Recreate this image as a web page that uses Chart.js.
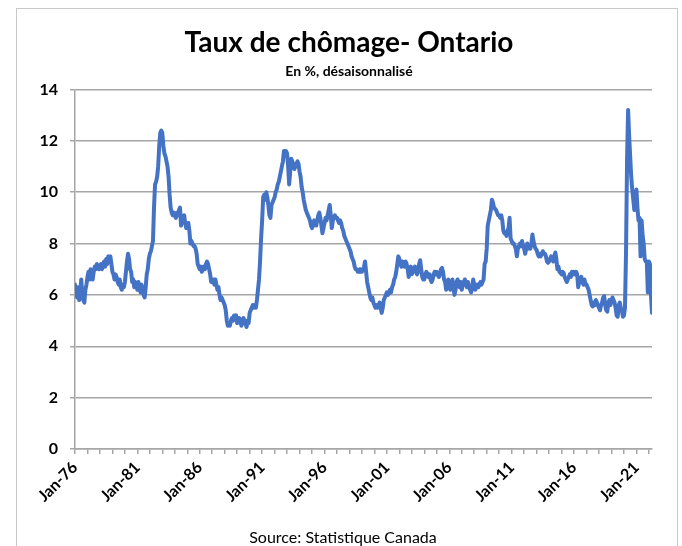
<!DOCTYPE html>
<html>
<head>
<meta charset="utf-8">
<script src="https://cdn.jsdelivr.net/npm/chart.js@4/dist/chart.umd.min.js"></script>
<style>
  body { margin: 0; background: #fff; }
  #wrap { position: relative; width: 682px; height: 546px; overflow: hidden; }
  #frame { position: absolute; left: 16px; top: 8px; width: 662px; height: 600px; border: 1px solid #c9c9c9; box-sizing: border-box; }
  canvas { position: absolute; left: 0; top: 0; }
  #source { position: absolute; left: 0; width: 686px; top: 527px; text-align: center; font: 16px Lato, sans-serif; color: #000; }
</style>
</head>
<body>
<div id="wrap">
  <div id="frame"></div>
  <canvas id="chomageChart" width="682" height="546"></canvas>
  <div id="source">Source: Statistique Canada</div>
</div>
<script>
// Taux de chômage mensuel, Ontario, janv. 1976 - avr. 2022
const tickLabels = ['Jan-76', 'Jan-81', 'Jan-86', 'Jan-91', 'Jan-96', 'Jan-01', 'Jan-06', 'Jan-11', 'Jan-16', 'Jan-21'];

const taux1970s = [
  6.4, 6.1, 5.9, 6.3, 5.8, 6.0, 6.6, 6.0, 5.8, 5.7, 6.2, 6.4,   // 1976
  6.7, 6.9, 6.6, 7.0, 6.8, 6.6, 6.9, 7.1, 7.0, 7.2, 7.1, 7.0,   // 1977
  7.1, 7.2, 7.0, 7.2, 7.3, 7.1, 7.4, 7.2, 7.5, 7.3, 7.5, 7.2,   // 1978
  6.9, 6.8, 6.6, 6.8, 6.7, 6.5, 6.4, 6.6, 6.3, 6.2, 6.4, 6.3    // 1979
];
const taux1980s = [
  6.5, 6.9, 7.3, 7.6, 7.4, 7.0, 6.9, 6.5, 6.6, 6.3, 6.5, 6.4,
  6.2, 6.5, 6.3, 6.1, 6.4, 6.2, 6.0, 5.9, 6.3, 6.8, 7.0, 7.4,
  7.6, 7.7, 7.9, 8.1, 9.4, 10.3, 10.4, 10.6, 11.0, 11.8, 12.3, 12.4,
  12.3, 11.8, 11.5, 11.4, 11.2, 11.0, 10.6, 9.9, 9.4, 9.2, 9.1, 9.2,
  9.1, 9.0, 9.2, 9.1, 9.3, 9.4, 8.7, 8.9, 9.0, 9.1, 8.8, 8.6,
  8.7, 8.8, 8.5, 8.0, 8.1, 8.0, 7.9, 7.9, 7.8, 7.6, 7.2, 7.1,
  7.0, 7.1, 6.9, 7.0, 7.1, 7.0, 7.2, 7.3, 7.2, 7.0, 6.8, 6.5,
  6.5, 6.6, 6.4, 6.6, 6.4, 6.2, 6.3, 6.0, 5.8, 5.9, 5.8, 5.7,
  5.6, 5.4, 5.0, 4.8, 4.9, 4.8, 5.0, 5.1, 5.0, 5.2, 5.1, 5.2,
  4.9, 5.0, 5.1, 5.0, 4.8, 4.9, 5.1, 5.0, 4.9, 4.75, 5.0, 4.9
];
const taux1990s = [
  5.3, 5.4, 5.5, 5.6, 5.5, 5.6, 5.5, 5.8, 6.2, 6.6, 7.3, 8.2,
  8.9, 9.8, 9.9, 9.7, 10.0, 9.8, 9.5, 9.1, 9.0, 9.5, 9.6, 9.7,
  9.8, 10.0, 10.1, 10.3, 10.4, 10.6, 10.8, 11.0, 11.2, 11.6, 11.5, 11.6,
  11.5, 11.0, 10.3, 10.8, 11.3, 11.2, 11.0, 10.9, 11.1, 11.0, 11.2, 11.1,
  10.8, 10.6, 10.2, 10.0, 9.7, 9.5, 9.3, 9.2, 9.1, 9.0, 8.9, 8.7,
  8.6, 8.7, 8.9, 8.8, 8.7, 8.9, 9.1, 9.2, 9.0, 8.7, 8.4, 8.6,
  8.8, 9.0, 8.9, 9.1, 9.3, 9.5, 9.1, 8.6, 8.9, 9.0, 9.1, 9.0,
  9.0, 8.9, 8.8, 8.9, 8.8, 8.6, 8.5, 8.3, 8.2, 8.1, 8.0, 7.9,
  7.8, 7.7, 7.5, 7.4, 7.3, 7.1, 7.0, 7.0, 6.9, 6.9, 7.0, 6.9,
  6.9, 7.0, 7.1, 7.3, 6.9, 6.5, 6.3, 6.1, 5.9, 5.8, 5.9, 5.7
];
const taux2000s = [
  5.6, 5.5, 5.6, 5.5, 5.6, 5.7, 5.5, 5.3, 5.5, 5.8, 5.9, 6.0,
  6.1, 6.0, 6.1, 6.2, 6.1, 6.3, 6.4, 6.6, 6.7, 6.9, 7.2, 7.5,
  7.4, 7.2, 7.1, 7.3, 7.2, 7.1, 7.3, 7.2, 7.0, 6.7, 6.9, 7.1,
  6.8, 6.9, 7.0, 7.1, 6.9, 6.8, 6.9, 7.2, 7.35, 7.0, 6.7, 6.6,
  6.6, 6.8, 6.9, 6.8, 6.7, 6.8, 6.6, 6.5, 6.6, 6.8, 6.9, 6.8,
  6.9, 6.8, 6.7, 6.8, 7.0, 7.05, 6.9, 6.6, 6.5, 6.2, 6.3, 6.6,
  6.3, 6.2, 6.4, 6.6, 6.3, 6.0, 6.2, 6.5, 6.6, 6.4, 6.3, 6.5,
  6.2, 6.4, 6.5, 6.6, 6.4, 6.3, 6.5, 6.3, 6.2, 6.1, 6.3, 6.6,
  6.4, 6.2, 6.3, 6.4, 6.3, 6.4, 6.5, 6.4, 6.5, 6.6, 7.2, 7.3,
  7.8, 8.7, 8.9, 9.1, 9.3, 9.7, 9.6, 9.4, 9.35, 9.3, 9.2, 9.1
];
const taux2010s = [
  9.1, 9.0, 9.1, 8.9, 8.5, 8.4, 8.4, 8.3, 8.5, 8.6, 9.0, 8.2,
  8.1, 8.0, 8.0, 7.9, 7.8, 7.5, 7.8, 7.9, 8.0, 7.9, 8.1, 7.9,
  7.8, 7.6, 7.8, 8.0, 7.8, 7.9, 7.8, 8.0, 8.35, 8.1, 7.9, 7.8,
  7.75, 7.6, 7.5, 7.6, 7.5, 7.6, 7.7, 7.6, 7.6, 7.5, 7.3, 7.25,
  7.3, 7.4, 7.5, 7.4, 7.3, 7.5, 7.65, 7.4, 7.0, 7.1, 6.9, 6.85,
  6.8, 6.9, 6.85, 6.7, 6.6, 6.5, 6.6, 6.7, 6.8, 6.7, 6.9, 6.8,
  6.9, 6.8, 6.9, 6.8, 6.3, 6.5, 6.6, 6.7, 6.5, 6.4, 6.6, 6.4,
  6.4, 6.3, 6.2, 6.0, 5.8, 5.6, 5.55, 5.7, 5.6, 5.8, 5.7, 5.6,
  5.5, 5.4, 5.6, 5.7, 5.9, 5.95, 5.6, 5.4, 5.35, 5.7, 5.8, 5.6,
  5.8, 5.9, 5.8, 5.7, 5.5, 5.2, 5.15, 5.6, 5.7, 5.5, 5.4, 5.15
];
const taux2020s = [
  5.2, 5.5, 7.6, 11.2, 13.2, 12.2, 11.4, 10.6, 10.1, 9.7, 9.3, 9.6,
  10.1, 9.4, 8.9, 9.0, 7.5, 8.9, 8.3, 8.0, 7.4, 7.3, 7.3, 6.1,
  7.3, 7.2, 6.0, 5.3
];

const taux = [].concat(taux1970s, taux1980s, taux1990s, taux2000s, taux2010s, taux2020s);
const points = taux.map((v, i) => ({ x: i, y: v }));

const gris = '#a6a6a6';
const police = 'Lato, sans-serif';

const ctx = document.getElementById('chomageChart').getContext('2d');
const chomageChart = new Chart(ctx, {
    type: 'line',
    data: {
        datasets: [{
            label: 'Ontario',
            data: points,
            borderColor: '#4472c4',
            borderWidth: 4,
            pointRadius: 0,
            tension: 0,
            borderJoinStyle: 'round',
            borderCapStyle: 'round'
        }]
    },
    options: {
        responsive: false,
        animation: false,
        devicePixelRatio: 1,
        // marge gauche 16 + axe vide à droite : titre centré vers x=349
        layout: { padding: { left: 16, right: 0, top: 0, bottom: 0 } },
        plugins: {
            legend: { display: false },
            tooltip: { enabled: false },
            title: {
                display: true,
                text: 'Taux de chômage- Ontario',
                color: '#000',
                font: { family: police, size: 28, weight: 'bold' },
                padding: { top: 26, bottom: 0 }
            },
            subtitle: {
                display: true,
                text: 'En %, désaisonnalisé',
                color: '#000',
                font: { family: police, size: 14, weight: 'bold' },
                padding: { top: 3, bottom: 10 }
            }
        },
        scales: {
            x: {
                type: 'linear',
                min: 0,
                max: taux.length - 1,
                afterFit: (scale) => { scale.height = 97; },
                border: { color: gris, width: 1.5 },
                grid: { drawOnChartArea: false, drawTicks: true, tickLength: 5, color: gris, lineWidth: 1.5 },
                ticks: {
                    stepSize: 12,
                    autoSkip: false,
                    includeBounds: false,
                    maxRotation: 45,
                    minRotation: 45,
                    padding: 4,
                    color: '#000',
                    font: { family: police, size: 16, weight: 'bold' },
                    callback: (value) => (value % 60 === 0 ? tickLabels[value / 60] : '')
                }
            },
            y: {
                min: 0,
                max: 14,
                afterFit: (scale) => { scale.width = 59; },
                border: { color: gris, width: 1.5 },
                grid: { color: gris, lineWidth: 1.5, tickLength: 5 },
                ticks: {
                    stepSize: 2,
                    padding: 12,
                    color: '#000',
                    font: { family: police, size: 16, weight: 'bold' }
                }
            },
            marge: {
                position: 'right',
                min: 0,
                max: 14,
                afterFit: (scale) => { scale.width = 30; },
                border: { display: false },
                grid: { display: false },
                ticks: { display: false }
            }
        }
    }
});
</script>
</body>
</html>
